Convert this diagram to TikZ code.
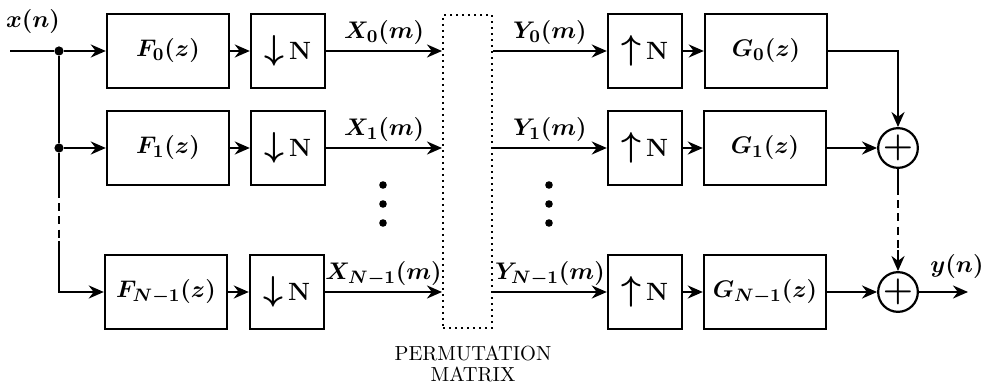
\documentclass[tikz,border=0pt]{standalone}
\usetikzlibrary{arrows.meta}
\newcommand{\dnsym}{{\fontsize{17}{17}\selectfont$\downarrow$}\,{\bfseries N}}
\newcommand{\upsym}{{\fontsize{17}{17}\selectfont$\uparrow$}\,{\bfseries N}}
\begin{document}
\begin{tikzpicture}[x=0.5pt,y=-0.5pt,
  every node/.style={font=\fontsize{12.5}{15}\selectfont\boldmath},
  blk/.style={draw, line width=1.2pt, minimum width=61pt, minimum height=37pt, inner sep=0pt, font=\fontsize{13}{15}\selectfont\boldmath},
  sblk/.style={draw, line width=1.2pt, minimum width=37pt, minimum height=37pt, inner sep=0pt},
  sumnode/.style={draw, circle, line width=1.1pt, minimum size=19pt, inner sep=0pt, font=\fontsize{17}{17}\selectfont\boldmath},
  permbox/.style={draw, dotted, line width=1pt, minimum width=24.5pt, minimum height=156.5pt, inner sep=0pt},
  wire/.style={line width=1.2pt},
  arr/.style={wire, -{Stealth[length=7.5pt,width=6.5pt]}},
  lbl/.style={inner sep=2.5pt},
  dotnode/.style={circle, fill, inner sep=0pt, minimum size=3.8pt},
  jdot/.style={circle, fill, inner sep=0pt, minimum size=4.6pt},
]
\useasboundingbox (0,0) rectangle (990,384);

% analysis filters
\node[blk] (F0) at (168,51) {$F_0(z)$};
\node[blk] (F1) at (168,148) {$F_1(z)$};
\node[blk] (F2) at (166,292) {$F_{N-1}(z)$};
% downsamplers
\node[sblk] (D0) at (288,51) {\dnsym};
\node[sblk] (D1) at (288,148) {\dnsym};
\node[sblk] (D2) at (287,292) {\dnsym};
% permutation matrix
\node[permbox] (P) at (467.5,171.5) {};
\node[font=\fontsize{10.2}{10.8}\selectfont, align=center, inner sep=0pt] (PL) at (473,364) {PERMUTATION\\MATRIX};
% upsamplers
\node[sblk] (U0) at (645,51) {\upsym};
\node[sblk] (U1) at (645,148) {\upsym};
\node[sblk] (U2) at (645,292) {\upsym};
% synthesis filters
\node[blk] (G0) at (766,51) {$G_0(z)$};
\node[blk] (G1) at (765,148) {$G_1(z)$};
\node[blk] (G2) at (765,292) {$G_{N-1}(z)$};
% adders
\node[sumnode] (S1) at (898,148) {$+$};
\node[sumnode] (S2) at (898,292) {$+$};

% input
\node (xl) at (33,22) {$x(n)$};
\coordinate (in) at (10,51);
\node[jdot] (j0) at (59,51) {};
\node[jdot] (j1) at (59,148) {};
\coordinate (d1) at (59,190);
\coordinate (d2) at (59,241);
\draw[wire] (in) -- (j0);
\draw[arr] (j0) -- (F0.west);
\draw[wire] (j0) -- (j1) -- (d1);
\draw[arr] (j1) -- (F1.west);
\draw[wire, dash pattern=on 4pt off 2.6pt] (d1) -- (d2);
\draw[arr] (d2) |- (F2.west);

% filter -> downsampler
\draw[arr] (F0) -- (D0);
\draw[arr] (F1) -- (D1);
\draw[arr] (F2) -- (D2);

% downsampler -> permutation
\draw[arr] (D0.east) -- (D0.east -| P.west) node[midway, above, lbl] {$X_0(m)$};
\draw[arr] (D1.east) -- (D1.east -| P.west) node[midway, above, lbl] {$X_1(m)$};
\draw[arr] (D2.east) -- (D2.east -| P.west) node[midway, above, lbl] {$X_{N-1}(m)$};

% permutation -> upsampler
\draw[arr] (U0.west -| P.east) -- (U0.west) node[midway, above, lbl] {$Y_0(m)$};
\draw[arr] (U1.west -| P.east) -- (U1.west) node[midway, above, lbl] {$Y_1(m)$};
\draw[arr] (U2.west -| P.east) -- (U2.west) node[midway, above, lbl] {$Y_{N-1}(m)$};

% vertical dots
\node[dotnode] (ld1) at (383,185) {};
\node[dotnode] (ld2) at (383,204) {};
\node[dotnode] (ld3) at (383,223) {};
\node[dotnode] (rd1) at (549,185) {};
\node[dotnode] (rd2) at (549,204) {};
\node[dotnode] (rd3) at (549,223) {};

% upsampler -> synthesis
\draw[arr] (U0) -- (G0);
\draw[arr] (U1) -- (G1);
\draw[arr] (U2) -- (G2);

% synthesis -> adders
\draw[arr] (G0.east) -| (S1.north);
\draw[arr] (G1.east) -- (S1.west);
\draw[arr] (G2.east) -- (S2.west);
\coordinate (e1) at (898,187);
\coordinate (e2) at (898,250);
\draw[wire] (S1.south) -- (e1);
\draw[wire, dash pattern=on 4pt off 2.6pt] (e1) -- (e2);
\draw[arr] (e2) -- (S2.north);

% output
\coordinate (out) at (968,292);
\draw[arr] (S2.east) -- (out);
\node (yl) at (957,267) {$y(n)$};
\end{tikzpicture}
\end{document}
